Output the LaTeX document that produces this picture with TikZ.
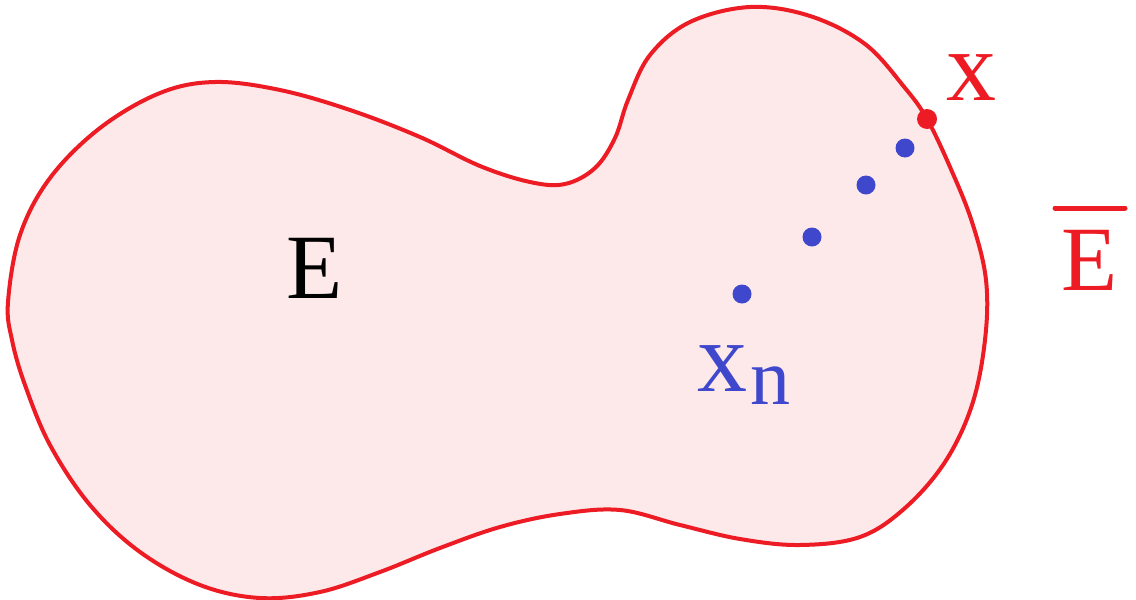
\documentclass[tikz,border=0pt]{standalone}
\usepackage{fontspec}
\setmainfont{Liberation Serif}
\definecolor{pred}{RGB}{237,28,36}
\definecolor{pblue}{RGB}{63,72,204}
\definecolor{pfill}{RGB}{253,233,234}
\tikzset{
  outline/.style={draw=pred, line width=4pt, fill=pfill, line join=round},
  seqdot/.style={fill=pblue},
  lbl/.style={inner sep=0pt, anchor=base}
}
\begin{document}
\begin{tikzpicture}[x=1pt,y=-1pt]
\useasboundingbox (0,0) rectangle (1136,600);
\draw[outline] plot[smooth cycle, tension=0.6] coordinates {
(8,302) (20,235) (50,178) (100,128) (160,93) (215,82) (280,90) (350,110)
(420,137) (480,166) (530,182) (565,184) (595,168) (615,138) (628,100) (650,55)
(690,22) (750,7) (810,16) (865,44) (905,88) (927,119) (950,167) (972,222)
(986,280) (985,340) (972,405) (945,462) (905,508) (860,537) (800,545) (740,539)
(680,525) (620,510) (560,514) (500,527) (440,548) (380,572) (320,592) (260,598)
(200,585) (140,552) (90,505) (50,445) (25,385) (12,340)};
% sequence points
\fill[seqdot] (742,294) circle (9.5);
\fill[seqdot] (812,237) circle (9.5);
\fill[seqdot] (866,185) circle (9.5);
\fill[seqdot] (905,148) circle (9.5);
\fill[pred] (927,119) circle (10);
% labels
\node[lbl] (E) at (314.5,298) {\fontsize{92}{92}\selectfont E};
\node[lbl, text=pred] (x) at (971,100) {\fontsize{100}{100}\selectfont x};
\node[lbl, text=pblue] (xn) at (722.5,391) {\fontsize{100}{100}\selectfont x};
\node[lbl, text=pblue, anchor=base west] (n) at (750,404) {\fontsize{80}{80}\selectfont n};
\node[lbl, text=pred] (Ebar) at (1089.5,290) {\fontsize{92}{92}\selectfont E};
\coordinate (b1) at (1055,208);
\coordinate (b2) at (1125,208);
\draw[pred, line width=5pt, line cap=round] (b1) -- (b2);
\end{tikzpicture}
\end{document}
